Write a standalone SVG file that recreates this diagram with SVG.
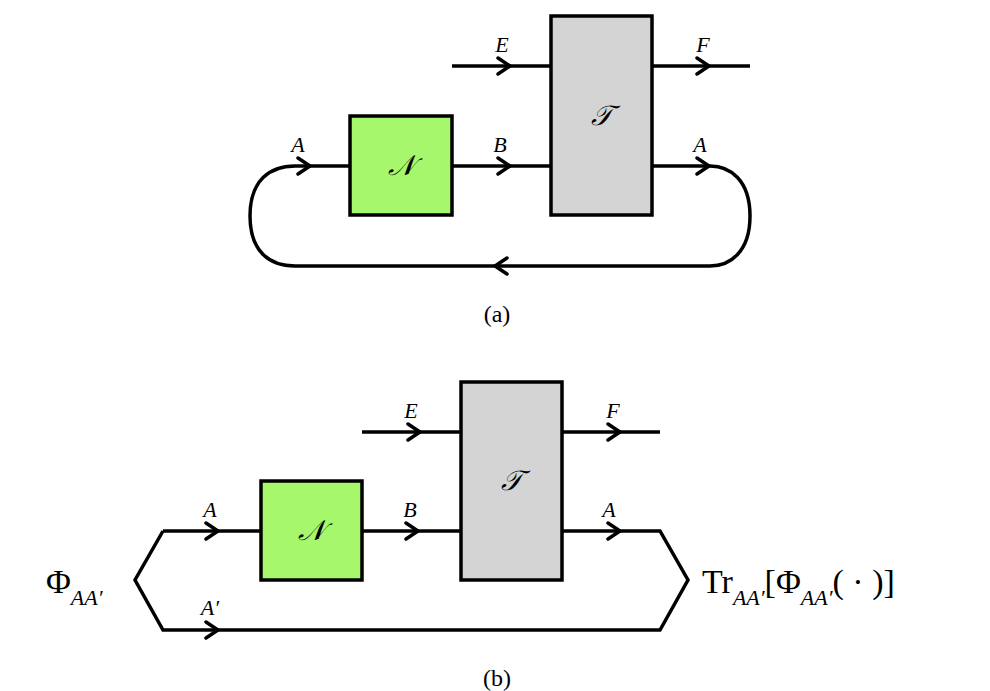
<svg xmlns="http://www.w3.org/2000/svg" width="990" height="691" viewBox="0 0 990 691">
<style>
.w{fill:none;stroke:#000;stroke-width:3.5;stroke-linejoin:miter}
.h{fill:none;stroke:#000;stroke-width:3.5;stroke-linecap:round}
.g{fill:#a6f76b;stroke:#000;stroke-width:3.5}
.t{fill:#d4d4d4;stroke:#000;stroke-width:3.5}
.l{font-family:"Liberation Serif",serif;font-style:italic;font-size:22px}
.m{font-family:"Liberation Serif",serif;font-size:34px}
.c{font-family:"Liberation Serif",serif;font-size:24px}
.s{font-family:"DejaVu Serif",serif;font-style:italic;font-size:28px}
</style>
<rect width="990" height="691" fill="#fff"/>
<g id="connectors">
<path class="w" d="M452 66H551M652 66H750M295 166H350M452 166H551M652 166H710"/>
<path class="w" d="M295 166C270 166 250 180 250 216C250 252 270 266 295 266H710C730 266 750 252 750 216C750 180 730 166 710 166"/>
<path class="h" d="M498 58L510 66L498 74M697 58L709 66L697 74M298 158L310 166L298 174M498 158L510 166L498 174M697 158L709 166L697 174M507 258L495 266L507 274"/>
<path class="w" d="M362 432H461M562 432H660M163 531H261M362 531H461M562 531H660L688 580L660 630H163L135 580L163 531"/>
<path class="h" d="M408 424L420 432L408 440M608 424L620 432L608 440M206 523L218 531L206 539M406 523L418 531L406 539M608 523L620 531L608 539M206 622L218 630L206 638"/>
</g>
<g id="N1"><rect class="g" x="350" y="116" width="102" height="99"/><text class="s" x="401" y="175" text-anchor="middle">𝒩</text></g>
<g id="T1"><rect class="t" x="551" y="16" width="101" height="199"/><text class="s" x="601" y="125" text-anchor="middle">𝒯</text></g>
<g id="N2"><rect class="g" x="261" y="481" width="101" height="99"/><text class="s" x="311" y="540" text-anchor="middle">𝒩</text></g>
<g id="T2"><rect class="t" x="461" y="382" width="101" height="198"/><text class="s" x="511" y="490" text-anchor="middle">𝒯</text></g>
<g id="labels">
<text class="l" x="298" y="152" text-anchor="middle">A</text>
<text class="l" x="500" y="152" text-anchor="middle">B</text>
<text class="l" x="502" y="52" text-anchor="middle">E</text>
<text class="l" x="703" y="52" text-anchor="middle">F</text>
<text class="l" x="700" y="152" text-anchor="middle">A</text>
<text class="c" x="497" y="322" text-anchor="middle">(a)</text>
<text class="l" x="411" y="418" text-anchor="middle">E</text>
<text class="l" x="613" y="418" text-anchor="middle">F</text>
<text class="l" x="210" y="517" text-anchor="middle">A</text>
<text class="l" x="410" y="517" text-anchor="middle">B</text>
<text class="l" x="609" y="517" text-anchor="middle">A</text>
<text class="l" x="210" y="615" text-anchor="middle">A′</text>
<text class="m" x="46" y="593">Φ<tspan class="l" font-size="24px" dy="12">AA′</tspan></text>
<text class="m" x="702" y="593">Tr<tspan class="l" font-size="24px" dy="12">AA′</tspan><tspan dy="-12">[Φ</tspan><tspan class="l" font-size="24px" dy="12">AA′</tspan><tspan dy="-12">( · )]</tspan></text>
<text class="c" x="497" y="686" text-anchor="middle">(b)</text>
</g>
</svg>
